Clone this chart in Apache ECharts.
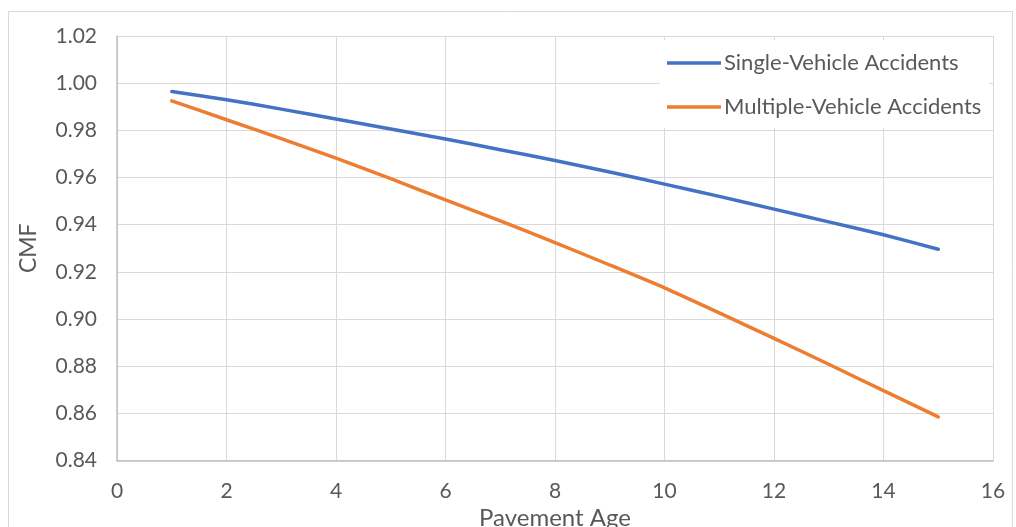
<!DOCTYPE html>
<html>
<head>
<meta charset="utf-8">
<script src="https://cdn.jsdelivr.net/npm/echarts@6/dist/echarts.min.js"></script>
<style>
  html, body { margin: 0; padding: 0; background: #fff; overflow: hidden; }
  #chart { width: 1016px; height: 527px; }
</style>
</head>
<body>
<div id="chart"></div>
<script>
// Pavement age (years)
const pavementAge = [1, 2, 3, 4, 5, 6, 7, 8, 9, 10, 11, 12, 13, 14, 15];
// Crash modification factors
const singleVehicle = [0.9965, 0.9930, 0.9890, 0.9848, 0.9806, 0.9763, 0.9718, 0.9672, 0.9623, 0.9572, 0.9520, 0.9466, 0.9412, 0.9357, 0.9296];
const multipleVehicle = [0.9925, 0.9845, 0.9765, 0.9682, 0.9595, 0.9505, 0.9416, 0.9324, 0.9229, 0.9132, 0.9026, 0.8918, 0.8808, 0.8696, 0.8585];
const seriesNames = ['Single-Vehicle Accidents', 'Multiple-Vehicle Accidents'];
const seriesColors = ['#4472C4', '#ED7D31'];

const FONT = 'Lato, "Open Sans", sans-serif';
const TEXT = '#595959';

const toPairs = (xs, ys) => xs.map((x, i) => [x, ys[i]]);

const chart = echarts.init(document.getElementById('chart'), null, { renderer: 'canvas', width: 1016, height: 527 });
chart.setOption({
  animation: false,
  backgroundColor: '#fff',
  textStyle: { fontFamily: FONT },
  // chart-area frame, open at the bottom edge of the page
  graphic: [{
    type: 'rect',
    shape: { x: 8.5, y: 11.5, width: 1004, height: 540 },
    style: { fill: 'none', stroke: '#d9d9d9', lineWidth: 1 },
    z: -10
  }],
  grid: { left: 117, top: 36, width: 876, height: 424.5, containLabel: false, outerBoundsMode: 'none' },
  legend: {
    orient: 'vertical',
    left: 660,
    top: 40,
    padding: [12, 8, 10, 7],
    backgroundColor: '#fff',
    icon: 'rect',
    itemWidth: 54,
    itemHeight: 3.5,
    itemGap: 22,
    textStyle: { fontFamily: FONT, fontSize: 22, color: TEXT, padding: [0, 0, 0, -2] },
    data: seriesNames
  },
  xAxis: {
    type: 'value',
    min: 0, max: 16, interval: 2,
    name: 'Pavement Age',
    nameLocation: 'middle',
    nameGap: 43,
    nameTextStyle: { fontFamily: FONT, fontSize: 24, color: TEXT },
    axisLine: { show: true, lineStyle: { color: '#bfbfbf', width: 1.5 } },
    axisTick: { show: false },
    axisLabel: { fontFamily: FONT, fontSize: 21, color: TEXT, margin: 20 },
    splitLine: { show: true, lineStyle: { color: '#d9d9d9', width: 1 } }
  },
  yAxis: {
    type: 'value',
    min: 0.84, max: 1.02, interval: 0.02,
    name: 'CMF',
    nameLocation: 'middle',
    nameRotate: 90,
    nameGap: 77,
    nameTextStyle: { fontFamily: FONT, fontSize: 23, color: TEXT },
    axisLine: { show: true, lineStyle: { color: '#bfbfbf', width: 1.5 } },
    axisTick: { show: false },
    axisLabel: { fontFamily: FONT, fontSize: 21, color: TEXT, margin: 20, formatter: v => v.toFixed(2) },
    splitLine: { show: true, lineStyle: { color: '#d9d9d9', width: 1 } }
  },
  series: [
    {
      name: seriesNames[0], type: 'line', symbol: 'none', smooth: 0.2,
      data: toPairs(pavementAge, singleVehicle),
      lineStyle: { color: seriesColors[0], width: 3.5, cap: 'round' },
      itemStyle: { color: seriesColors[0] }
    },
    {
      name: seriesNames[1], type: 'line', symbol: 'none', smooth: 0.2,
      data: toPairs(pavementAge, multipleVehicle),
      lineStyle: { color: seriesColors[1], width: 3.5, cap: 'round' },
      itemStyle: { color: seriesColors[1] }
    }
  ]
});
</script>
</body>
</html>
